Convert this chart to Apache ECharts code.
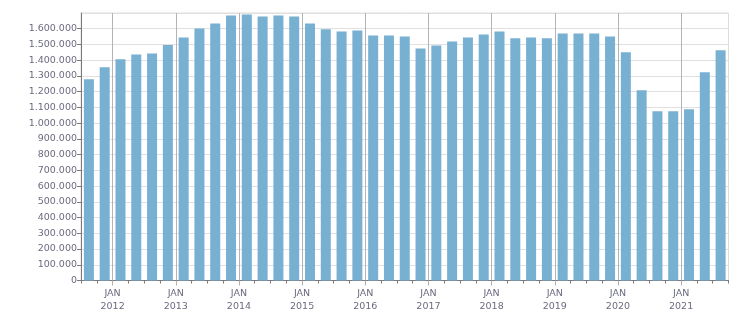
<!DOCTYPE html>
<html>
<head>
<meta charset="utf-8">
<script src="https://cdn.jsdelivr.net/npm/echarts@6/dist/echarts.min.js"></script>
<style>html,body{margin:0;padding:0;background:#fff}#c{width:751px;height:313px}</style>
</head>
<body>
<div id="c"></div>
<script>
// Quarterly categories (Q3 2011 .. Q3 2021)
const categories = [
  '2011-Q3','2011-Q4',
  '2012-Q1','2012-Q2','2012-Q3','2012-Q4',
  '2013-Q1','2013-Q2','2013-Q3','2013-Q4',
  '2014-Q1','2014-Q2','2014-Q3','2014-Q4',
  '2015-Q1','2015-Q2','2015-Q3','2015-Q4',
  '2016-Q1','2016-Q2','2016-Q3','2016-Q4',
  '2017-Q1','2017-Q2','2017-Q3','2017-Q4',
  '2018-Q1','2018-Q2','2018-Q3','2018-Q4',
  '2019-Q1','2019-Q2','2019-Q3','2019-Q4',
  '2020-Q1','2020-Q2','2020-Q3','2020-Q4',
  '2021-Q1','2021-Q2','2021-Q3'
];
const values = [
  1279000, 1355000,
  1406000, 1437000, 1443000, 1496000,
  1545000, 1602000, 1634000, 1684000,
  1690000, 1678000, 1684000, 1678000,
  1634000, 1596000, 1583000, 1589000,
  1557000, 1557000, 1551000, 1475000,
  1494000, 1519000, 1545000, 1564000,
  1583000, 1539000, 1545000, 1539000,
  1570000, 1570000, 1570000, 1551000,
  1450000, 1209000, 1076000, 1076000,
  1088000, 1323000, 1463000
];
// Tick label text used at each January boundary
const tickMonth = 'JAN';
const quarterStartMonths = ['JAN', 'APR', 'JUL', 'OCT'];

// Boundaries between quarters (one more than categories)
const boundaries = categories.map(c => {
  const y = c.slice(0, 4), q = +c.slice(6);
  return quarterStartMonths[q - 1] + '|' + y;
});
boundaries.push('OCT|2021');

const isJan = (i) => boundaries[i] && boundaries[i].startsWith(tickMonth + '|');
const fmtNum = (v) => String(v).replace(/\B(?=(\d{3})+(?!\d))/g, '.');

const textColor = '#6b6b80';
const font = 'DejaVu Sans';

const chart = echarts.init(document.getElementById('c'), null, {renderer: 'canvas'});
chart.setOption({
  animation: false,
  backgroundColor: '#fff',
  grid: {left: 81, right: 22.5, top: 13, bottom: 32.5, show: true, borderColor: '#dcdcdc', borderWidth: 1},
  xAxis: [
    {
      type: 'category',
      data: categories,
      boundaryGap: true,
      axisLine: {show: true, lineStyle: {color: '#7a7a7a', width: 1}},
      axisTick: {show: true, interval: 0, length: 3, lineStyle: {color: '#7a7a7a'}},
      axisLabel: {show: false},
      splitLine: {show: false}
    },
    {
      type: 'category',
      data: boundaries,
      boundaryGap: false,
      position: 'bottom',
      axisLine: {show: false},
      axisTick: {show: true, interval: (i) => isJan(i), length: 5, lineStyle: {color: '#b0b0b0'}},
      splitLine: {show: true, interval: (i) => isJan(i), lineStyle: {color: '#b4b4b4', width: 1}},
      axisLabel: {
        show: true,
        interval: (i) => isJan(i),
        formatter: (v) => v.replace('|', '\n'),
        color: textColor,
        fontFamily: font,
        fontSize: 9.5,
        lineHeight: 12.5,
        margin: 7
      }
    }
  ],
  yAxis: {
    type: 'value',
    min: 0,
    max: 1700000,
    interval: 100000,
    axisLine: {show: true, lineStyle: {color: '#7a7a7a'}},
    axisTick: {show: true, length: 4, lineStyle: {color: '#7a7a7a'}},
    axisLabel: {
      showMaxLabel: false,
      formatter: fmtNum,
      color: textColor,
      fontFamily: font,
      fontSize: 9.5,
      margin: 4
    },
    splitLine: {show: true, lineStyle: {color: '#e0e0e0', width: 1}}
  },
  series: [{
    type: 'bar',
    xAxisIndex: 0,
    data: values,
    barWidth: 10,
    itemStyle: {color: '#77b0d1'}
  }]
});
</script>
</body>
</html>
